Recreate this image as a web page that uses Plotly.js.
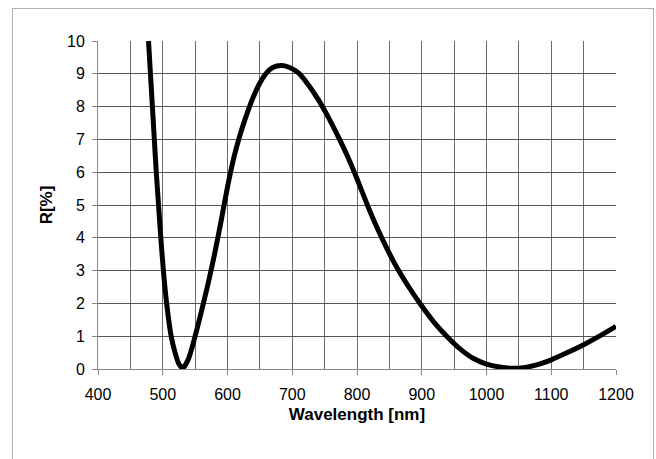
<!DOCTYPE html>
<html>
<head>
<meta charset="utf-8">
<script src="https://cdn.plot.ly/plotly-3.0.1.min.js"></script>
<style>
  html, body { margin: 0; padding: 0; background: #fff; }
  #wrap { position: relative; width: 656px; height: 459px; overflow: hidden; }
  #chart { width: 656px; height: 459px; }
  #frame { position: absolute; left: 12px; top: 8px; width: 640px; height: 470px;
           border: 1px solid #b0b0b0; pointer-events: none; }
</style>
</head>
<body>
<div id="wrap">
  <div id="chart"></div>
  <div id="frame"></div>
</div>
<script>
// Wavelength in nm
const wavelength = [478, 481, 484, 487, 490, 493.5, 497, 501, 506, 513, 519, 525, 531, 540, 550,
  560, 570, 580, 590, 600, 610, 620, 630, 640, 650, 660, 670, 683, 695, 710, 725, 740, 755,
  770, 785, 800, 815, 830, 845, 860, 880, 900, 920, 940, 960, 980, 1000, 1020, 1040, 1060,
  1080, 1100, 1125, 1150, 1175, 1200];
// Reflectance in %
const reflectance = [10, 9, 8, 7, 6, 5, 4, 3, 2, 1, 0.5, 0.15, 0.02, 0.32, 1.0,
  1.78, 2.6, 3.5, 4.5, 5.55, 6.46, 7.18, 7.78, 8.3, 8.72, 9.02, 9.19, 9.25, 9.2, 9.02, 8.66, 8.22, 7.7,
  7.12, 6.5, 5.8, 5.05, 4.35, 3.72, 3.15, 2.5, 1.92, 1.4, 0.97, 0.6, 0.32, 0.15, 0.06, 0.02, 0.05,
  0.14, 0.28, 0.5, 0.74, 1.01, 1.3];

const xTicks = [400, 500, 600, 700, 800, 900, 1000, 1100, 1200];
const xGrid = [450, 500, 550, 600, 650, 700, 750, 800, 850, 900, 950, 1000, 1050, 1100, 1150];
const yTicks = [0, 1, 2, 3, 4, 5, 6, 7, 8, 9, 10];
const yGrid = [1, 2, 3, 4, 5, 6, 7, 8, 9];

const trace = {
  x: wavelength, y: reflectance, type: 'scatter', mode: 'lines',
  line: { color: '#000', width: 5, shape: 'spline', smoothing: 0.6 },
  hoverinfo: 'skip'
};

const layout = {
  width: 656, height: 459,
  margin: { l: 98, r: 40, t: 41, b: 90 },
  paper_bgcolor: 'rgba(0,0,0,0)', plot_bgcolor: 'rgba(0,0,0,0)',
  font: { family: 'Liberation Sans, Arial, sans-serif', size: 16, color: '#000' },
  showlegend: false,
  xaxis: {
    range: [400, 1200], tickmode: 'array', tickvals: xTicks, ticktext: xTicks.map(String),
    showline: true, linecolor: '#888', linewidth: 1,
    ticks: 'outside', ticklen: 5, tickcolor: '#888',
    showgrid: false,
    minor: { tickmode: 'array', tickvals: xGrid, showgrid: true, gridcolor: '#6a6a6a', gridwidth: 1, ticks: '' },
    zeroline: false, ticklabelstandoff: 6,
    title: { text: '<b>Wavelength [nm]</b>', font: { size: 17 }, standoff: 5 }
  },
  yaxis: {
    range: [0, 10], tickmode: 'array', tickvals: yTicks, ticktext: yTicks.map(String),
    showline: true, linecolor: '#888', linewidth: 1,
    ticks: 'outside', ticklen: 5, tickcolor: '#888',
    showgrid: false,
    minor: { tickmode: 'array', tickvals: yGrid, showgrid: true, gridcolor: '#555', gridwidth: 1, ticks: '' },
    zeroline: false, ticklabelstandoff: 4,
    title: { text: '<b>R[%]</b>', font: { size: 17 }, standoff: 10 }
  }
};

Plotly.newPlot('chart', [trace], layout, { displayModeBar: false, staticPlot: true });
</script>
</body>
</html>
